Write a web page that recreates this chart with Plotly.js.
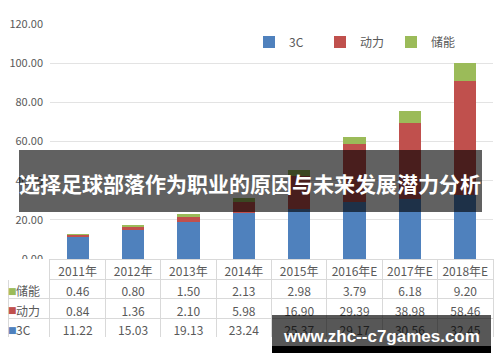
<!DOCTYPE html>
<html>
<head>
<meta charset="utf-8">
<script src="https://cdn.plot.ly/plotly-3.0.1.min.js"></script>
<style>html,body{margin:0;padding:0;background:#fff;}#chart{width:500px;height:362px;}</style>
</head>
<body>
<div id="chart"></div>
<script>
const years = ['2011年','2012年','2013年','2014年','2015年','2016年E','2017年E','2018年E'];
const series3C = [11.22,15.03,19.13,23.24,25.37,29.17,30.56,32.45];
const seriesPower = [0.84,1.36,2.10,5.98,16.90,29.39,38.98,58.46];
const seriesStorage = [0.46,0.80,1.50,2.13,2.98,3.79,6.18,9.20];
const seriesNames = ['3C','动力','储能'];
const colors = ['#4f81bd','#c0504d','#9bbb59'];
const bannerText = '选择足球部落作为职业的原因与未来发展潜力分析';
const watermarkText = 'www.zhc--c7games.com';

const W = 500, H = 362;
const px = x => x / W;
const py = y => (H - y) / H;
const font = '"Noto Sans CJK SC", "Open Sans", sans-serif';
const grey = '#595959';

const allSeries = [series3C, seriesPower, seriesStorage];
const traces = allSeries.map((vals, i) => ({
  type: 'bar', x: years, y: vals, name: seriesNames[i],
  marker: {color: colors[i]}, width: 0.4, hoverinfo: 'none'
}));

const fmt = v => v.toFixed(2);
// table rows in order: 储能, 动力, 3C
const rowOrder = [2, 1, 0];
const tableCols = [rowOrder.map(i => seriesNames[i])];
years.forEach((y, j) => tableCols.push([fmt(seriesStorage[j]), fmt(seriesPower[j]), fmt(series3C[j])]));

const tableY = [py(337), py(259)];
traces.push({
  type: 'table',
  domain: {x: [px(8), px(493)], y: tableY},
  columnwidth: [42].concat(years.map(() => 55.4)),
  header: {
    values: [''].concat(years),
    align: 'center', height: 20,
    fill: {color: '#ffffff'},
    line: {color: ['#ffffff'].concat(years.map(() => '#d9d9d9')), width: 1},
    font: {family: font, size: 12, color: grey}
  },
  cells: {
    values: tableCols,
    align: ['left'].concat(years.map(() => 'center')),
    height: 19.5,
    fill: {color: '#ffffff'},
    line: {color: '#d9d9d9', width: 1},
    font: {family: font, size: 12, color: grey}
  }
});
// colour keys in the label column
traces.push({
  type: 'table',
  domain: {x: [0, px(30)], y: tableY},
  columnwidth: [1],
  header: {values: [''], height: 20, fill: {color: 'rgba(0,0,0,0)'}, line: {color: 'rgba(0,0,0,0)', width: 0}},
  cells: {
    values: [rowOrder.map(() => '■')],
    align: 'left', height: 19.5,
    fill: {color: 'rgba(0,0,0,0)'},
    line: {color: 'rgba(0,0,0,0)', width: 0},
    font: {family: '"DejaVu Sans", sans-serif', size: 9, color: [rowOrder.map(i => colors[i])]}
  }
});

const layout = {
  width: W, height: H,
  margin: {l: 0, r: 0, t: 0, b: 0},
  paper_bgcolor: '#ffffff', plot_bgcolor: '#ffffff',
  barmode: 'stack',
  showlegend: true,
  legend: {
    orientation: 'h', traceorder: 'normal',
    x: px(462), xanchor: 'right', y: py(42), yanchor: 'middle',
    font: {family: font, size: 12, color: grey},
    itemwidth: 30, entrywidth: 26, entrywidthmode: 'pixels', bgcolor: 'rgba(0,0,0,0)'
  },
  xaxis: {
    domain: [px(50), px(493)], showticklabels: false, ticks: '',
    showgrid: false, zeroline: false, showline: false, fixedrange: true
  },
  yaxis: {
    domain: [py(259), py(24)], range: [0, 120], dtick: 20, tickformat: '.2f',
    gridcolor: '#e3e3e3', zeroline: false, showline: false, ticks: '',
    ticklabelstandoff: 6,
    tickfont: {family: font, size: 11, color: grey}, fixedrange: true
  },
  shapes: [
    {type: 'rect', xref: 'paper', yref: 'paper', x0: px(19), x1: px(482), y0: py(212), y1: py(150),
     fillcolor: 'rgba(0,0,0,0.62)', line: {width: 0}, layer: 'above'},
    {type: 'rect', xref: 'paper', yref: 'paper', x0: px(272), x1: px(491), y0: py(346), y1: py(315),
     fillcolor: 'rgba(0,0,0,0.66)', line: {width: 0}, layer: 'above'},
    {type: 'rect', xref: 'paper', yref: 'paper', x0: px(272), x1: px(491), y0: py(353), y1: py(346),
     fillcolor: '#000000', line: {width: 0}, layer: 'above'}
  ],
  annotations: [
    {xref: 'paper', yref: 'paper', x: px(250), y: py(183), xanchor: 'center', yanchor: 'middle',
     text: '<b>' + bannerText + '</b>', showarrow: false,
     font: {family: font, size: 21, color: '#ffffff'}},
    {xref: 'paper', yref: 'paper', x: px(381), y: py(336), xanchor: 'center', yanchor: 'middle',
     text: '<b>' + watermarkText + '</b>', showarrow: false,
     font: {family: '"Liberation Sans", Arial, sans-serif', size: 17, color: '#ffffff'}}
  ]
};

Plotly.newPlot('chart', traces, layout, {staticPlot: true, displayModeBar: false});
</script>
</body>
</html>
